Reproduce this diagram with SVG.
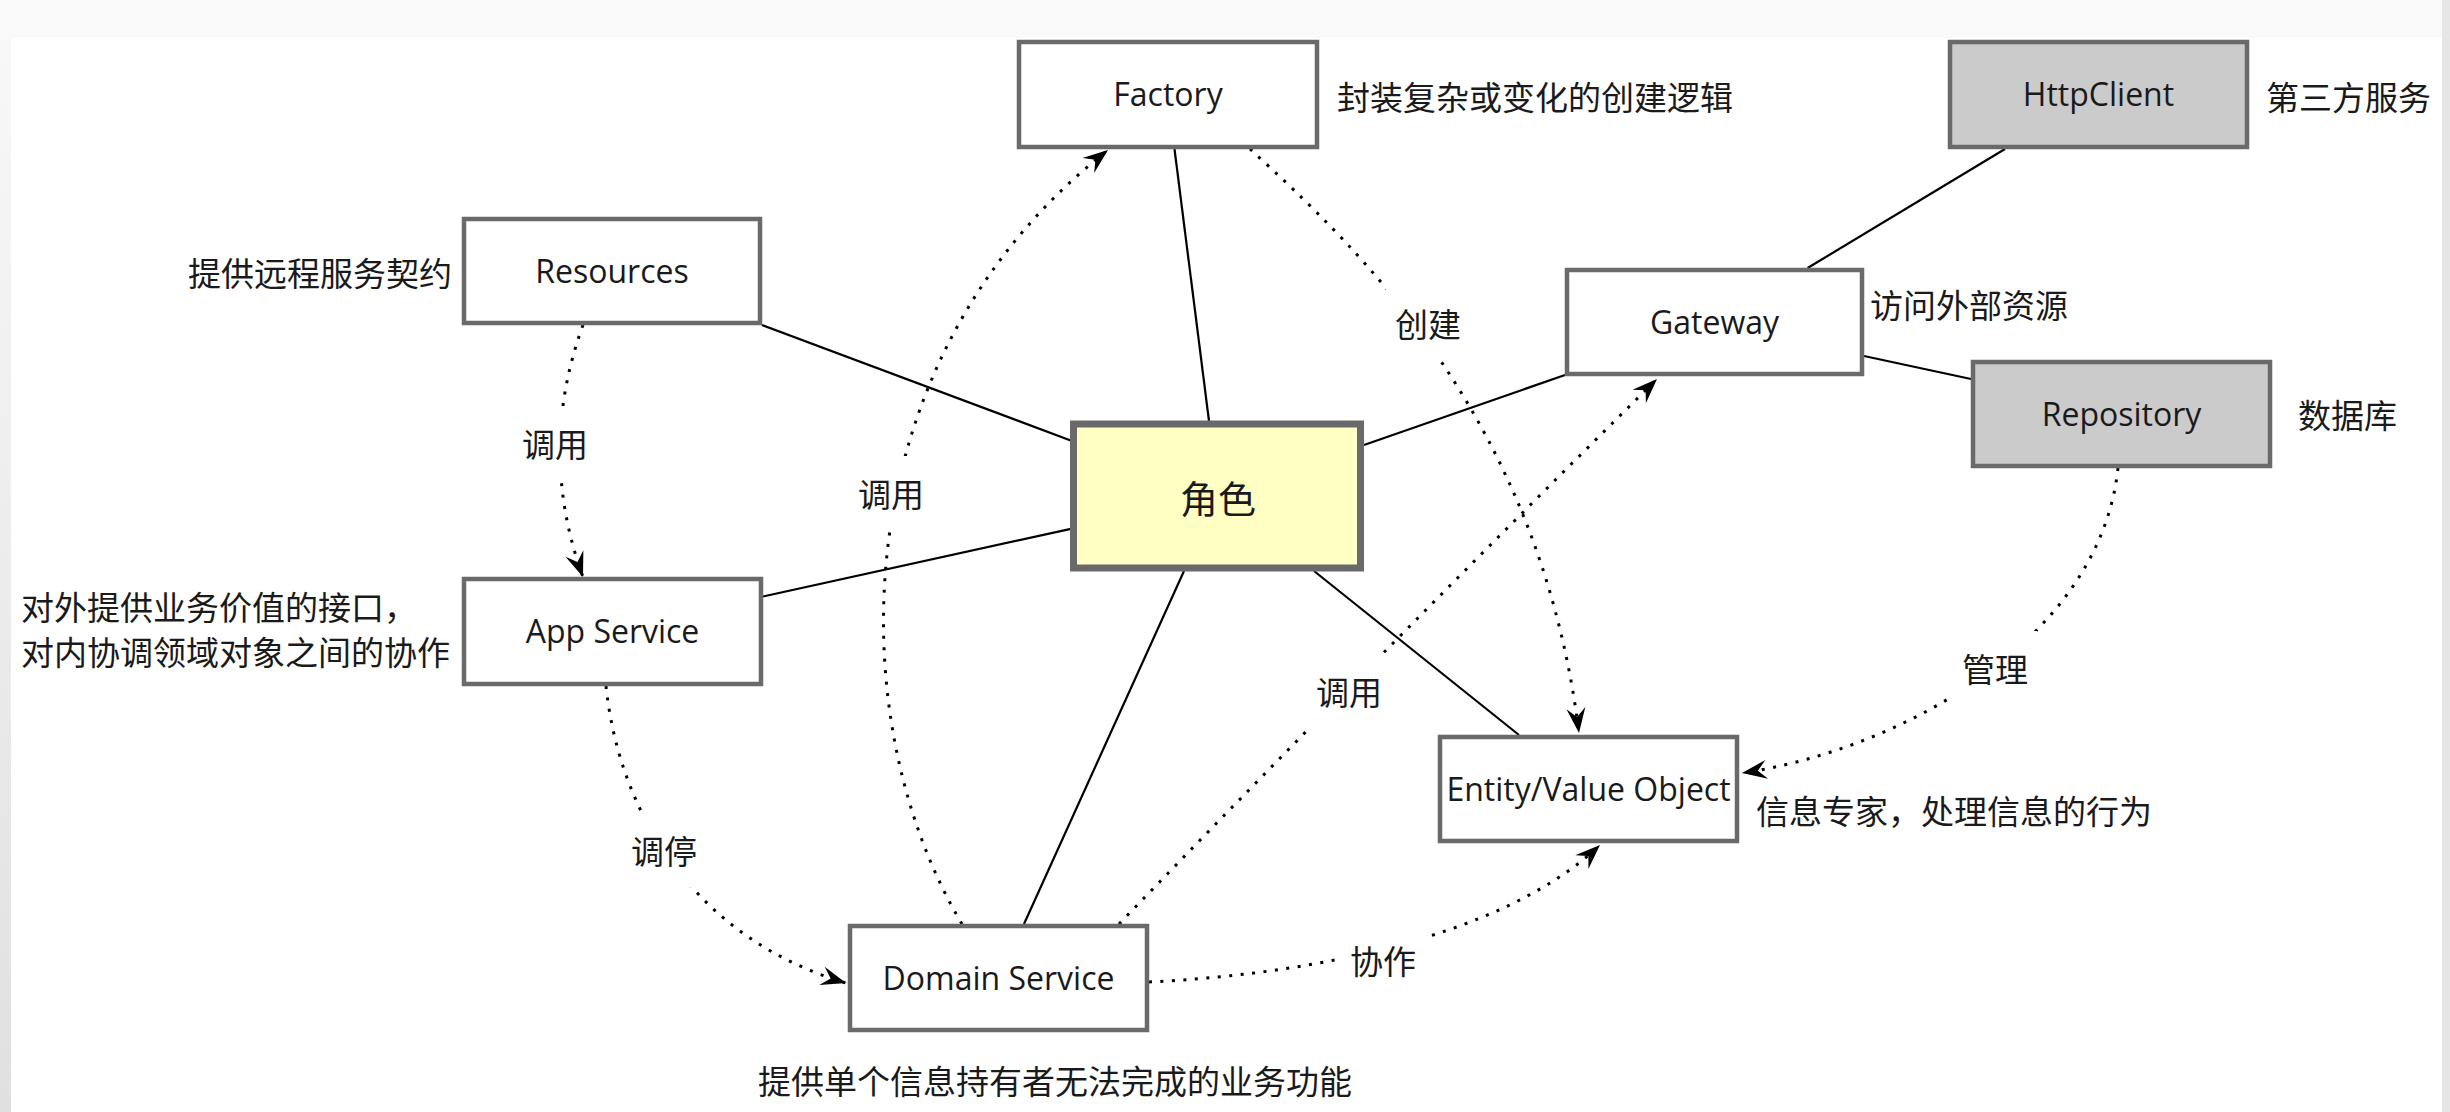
<svg xmlns="http://www.w3.org/2000/svg" width="2450" height="1112" viewBox="0 0 2450 1112">
  <style>
    .box { fill: #ffffff; stroke: #6a6a6a; stroke-width: 4.5; }
    .ext { fill: #cbcbcb; }
    .core { fill: #ffffc4; stroke-width: 7; }
    .name { font-family: "Open Sans", "Liberation Sans", sans-serif; font-size: 32px; fill: #1a1a1a; text-anchor: middle; }
    .cn { font-family: "Noto Sans CJK SC", sans-serif; font-size: 33px; fill: #1a1a1a; dominant-baseline: central; }
    .mid { text-anchor: middle; }
    .big { font-size: 38px; }
    .link { fill: none; stroke: #000000; stroke-width: 2.2; }
    .dot { fill: none; stroke: #000000; stroke-width: 3; stroke-dasharray: 3 8.5; }
  </style>
  <defs>
    <marker id="head" markerUnits="userSpaceOnUse" markerWidth="30" markerHeight="24" viewBox="-27 -12 30 24" refX="0" refY="0" orient="auto">
      <path d="M0,0 L-25,-9.5 L-16,0 L-25,9.5 Z" fill="#000000" stroke="none"/>
    </marker>
    <linearGradient id="edge" x1="0" y1="0" x2="0" y2="1">
      <stop offset="0" stop-color="#f8f8f8"/>
      <stop offset="1" stop-color="#e0e0e0"/>
    </linearGradient>
    <!-- gaps in the dotted connectors where their labels sit -->
    <mask id="labelGaps" maskUnits="userSpaceOnUse" x="0" y="0" width="2450" height="1112">
      <rect x="0" y="0" width="2450" height="1112" fill="#ffffff"/>
      <rect x="513" y="406" width="84" height="74" fill="#000000"/>
      <rect x="849" y="456" width="84" height="74" fill="#000000"/>
      <rect x="1386" y="286" width="84" height="74" fill="#000000"/>
      <rect x="1307" y="654" width="84" height="74" fill="#000000"/>
      <rect x="622" y="813" width="84" height="74" fill="#000000"/>
      <rect x="1341" y="923" width="84" height="74" fill="#000000"/>
      <rect x="1953" y="631" width="84" height="74" fill="#000000"/>
    </mask>
  </defs>

  <!-- page background and window edges -->
  <rect x="0" y="0" width="2450" height="1112" fill="#ffffff"/>
  <rect x="0" y="0" width="2450" height="38" fill="#f9f9f9"/>
  <rect x="0" y="38" width="11" height="1074" fill="url(#edge)"/>
  <rect x="2442" y="0" width="8" height="1112" fill="#e6e6e6"/>

  <!-- connectors -->
  <g id="connectors">
    <g id="associations">
      <line class="link" x1="1174.5" y1="149" x2="1209" y2="421"/>
      <line class="link" x1="762" y1="325" x2="1072" y2="441"/>
      <line class="link" x1="763" y1="596.5" x2="1072" y2="528.6"/>
      <line class="link" x1="1364" y1="445" x2="1565" y2="375"/>
      <line class="link" x1="1807.6" y1="268" x2="2005" y2="149"/>
      <line class="link" x1="1864" y1="356" x2="1971" y2="379"/>
      <line class="link" x1="1184" y1="571" x2="1024" y2="924"/>
      <line class="link" x1="1314" y1="571" x2="1519" y2="735"/>
    </g>
    <g id="dependencies" mask="url(#labelGaps)">
      <path class="dot" d="M583,325 Q537,451 583,577" marker-end="url(#head)"/>
      <path class="dot" d="M606,686 C620,820 700,940 846,983" marker-end="url(#head)"/>
      <path class="dot" d="M1250,149 C1360,250 1540,420 1579,733" marker-end="url(#head)"/>
      <path class="dot" d="M962,924 C840,720 840,360 1108,150" marker-end="url(#head)"/>
      <path class="dot" d="M1119,924 Q1385,648 1657,379" marker-end="url(#head)"/>
      <path class="dot" d="M1149,982 C1300,975 1500,940 1600,845" marker-end="url(#head)"/>
      <path class="dot" d="M2118,468 C2100,640 1900,750 1742,773" marker-end="url(#head)"/>
    </g>
    <g id="connector-labels">
      <text class="cn mid" x="555" y="443">调用</text>
      <text class="cn mid" x="891" y="493">调用</text>
      <text class="cn mid" x="1428" y="323">创建</text>
      <text class="cn mid" x="1349" y="691">调用</text>
      <text class="cn mid" x="664" y="850">调停</text>
      <text class="cn mid" x="1383" y="960">协作</text>
      <text class="cn mid" x="1995" y="668">管理</text>
    </g>
  </g>

  <!-- nodes -->
  <g id="factory">
    <rect class="box" x="1019" y="42" width="298" height="105"/>
    <text class="name" x="1168" y="106">Factory</text>
    <text class="cn" x="1337" y="96">封装复杂或变化的创建逻辑</text>
  </g>
  <g id="resources">
    <rect class="box" x="464" y="219" width="296" height="104"/>
    <text class="name" x="612" y="282.5">Resources</text>
    <text class="cn" x="188" y="272">提供远程服务契约</text>
  </g>
  <g id="http-client">
    <rect class="box ext" x="1950" y="42" width="297" height="105"/>
    <text class="name" x="2098.5" y="106">HttpClient</text>
    <text class="cn" x="2266" y="96">第三方服务</text>
  </g>
  <g id="gateway">
    <rect class="box" x="1567" y="270" width="295" height="104"/>
    <text class="name" x="1714.5" y="333.5">Gateway</text>
    <text class="cn" x="1870" y="304">访问外部资源</text>
  </g>
  <g id="repository">
    <rect class="box ext" x="1973" y="362" width="297" height="104"/>
    <text class="name" x="2121.5" y="425.5">Repository</text>
    <text class="cn" x="2298" y="414">数据库</text>
  </g>
  <g id="role">
    <rect class="box core" x="1073.5" y="424" width="287" height="144"/>
    <text class="cn mid big" x="1218" y="496">角色</text>
  </g>
  <g id="app-service">
    <rect class="box" x="464" y="579" width="297" height="105"/>
    <text class="name" x="612.5" y="643">App Service</text>
    <text class="cn" x="21" y="606">对外提供业务价值的接口，</text>
    <text class="cn" x="21" y="651">对内协调领域对象之间的协作</text>
  </g>
  <g id="entity-value-object">
    <rect class="box" x="1440" y="737" width="297" height="104"/>
    <text class="name" x="1588.5" y="800.5">Entity/Value Object</text>
    <text class="cn" x="1756" y="810">信息专家，处理信息的行为</text>
  </g>
  <g id="domain-service">
    <rect class="box" x="850" y="926" width="297" height="104"/>
    <text class="name" x="998.5" y="989.5">Domain Service</text>
    <text class="cn" x="758" y="1080">提供单个信息持有者无法完成的业务功能</text>
  </g>
</svg>
